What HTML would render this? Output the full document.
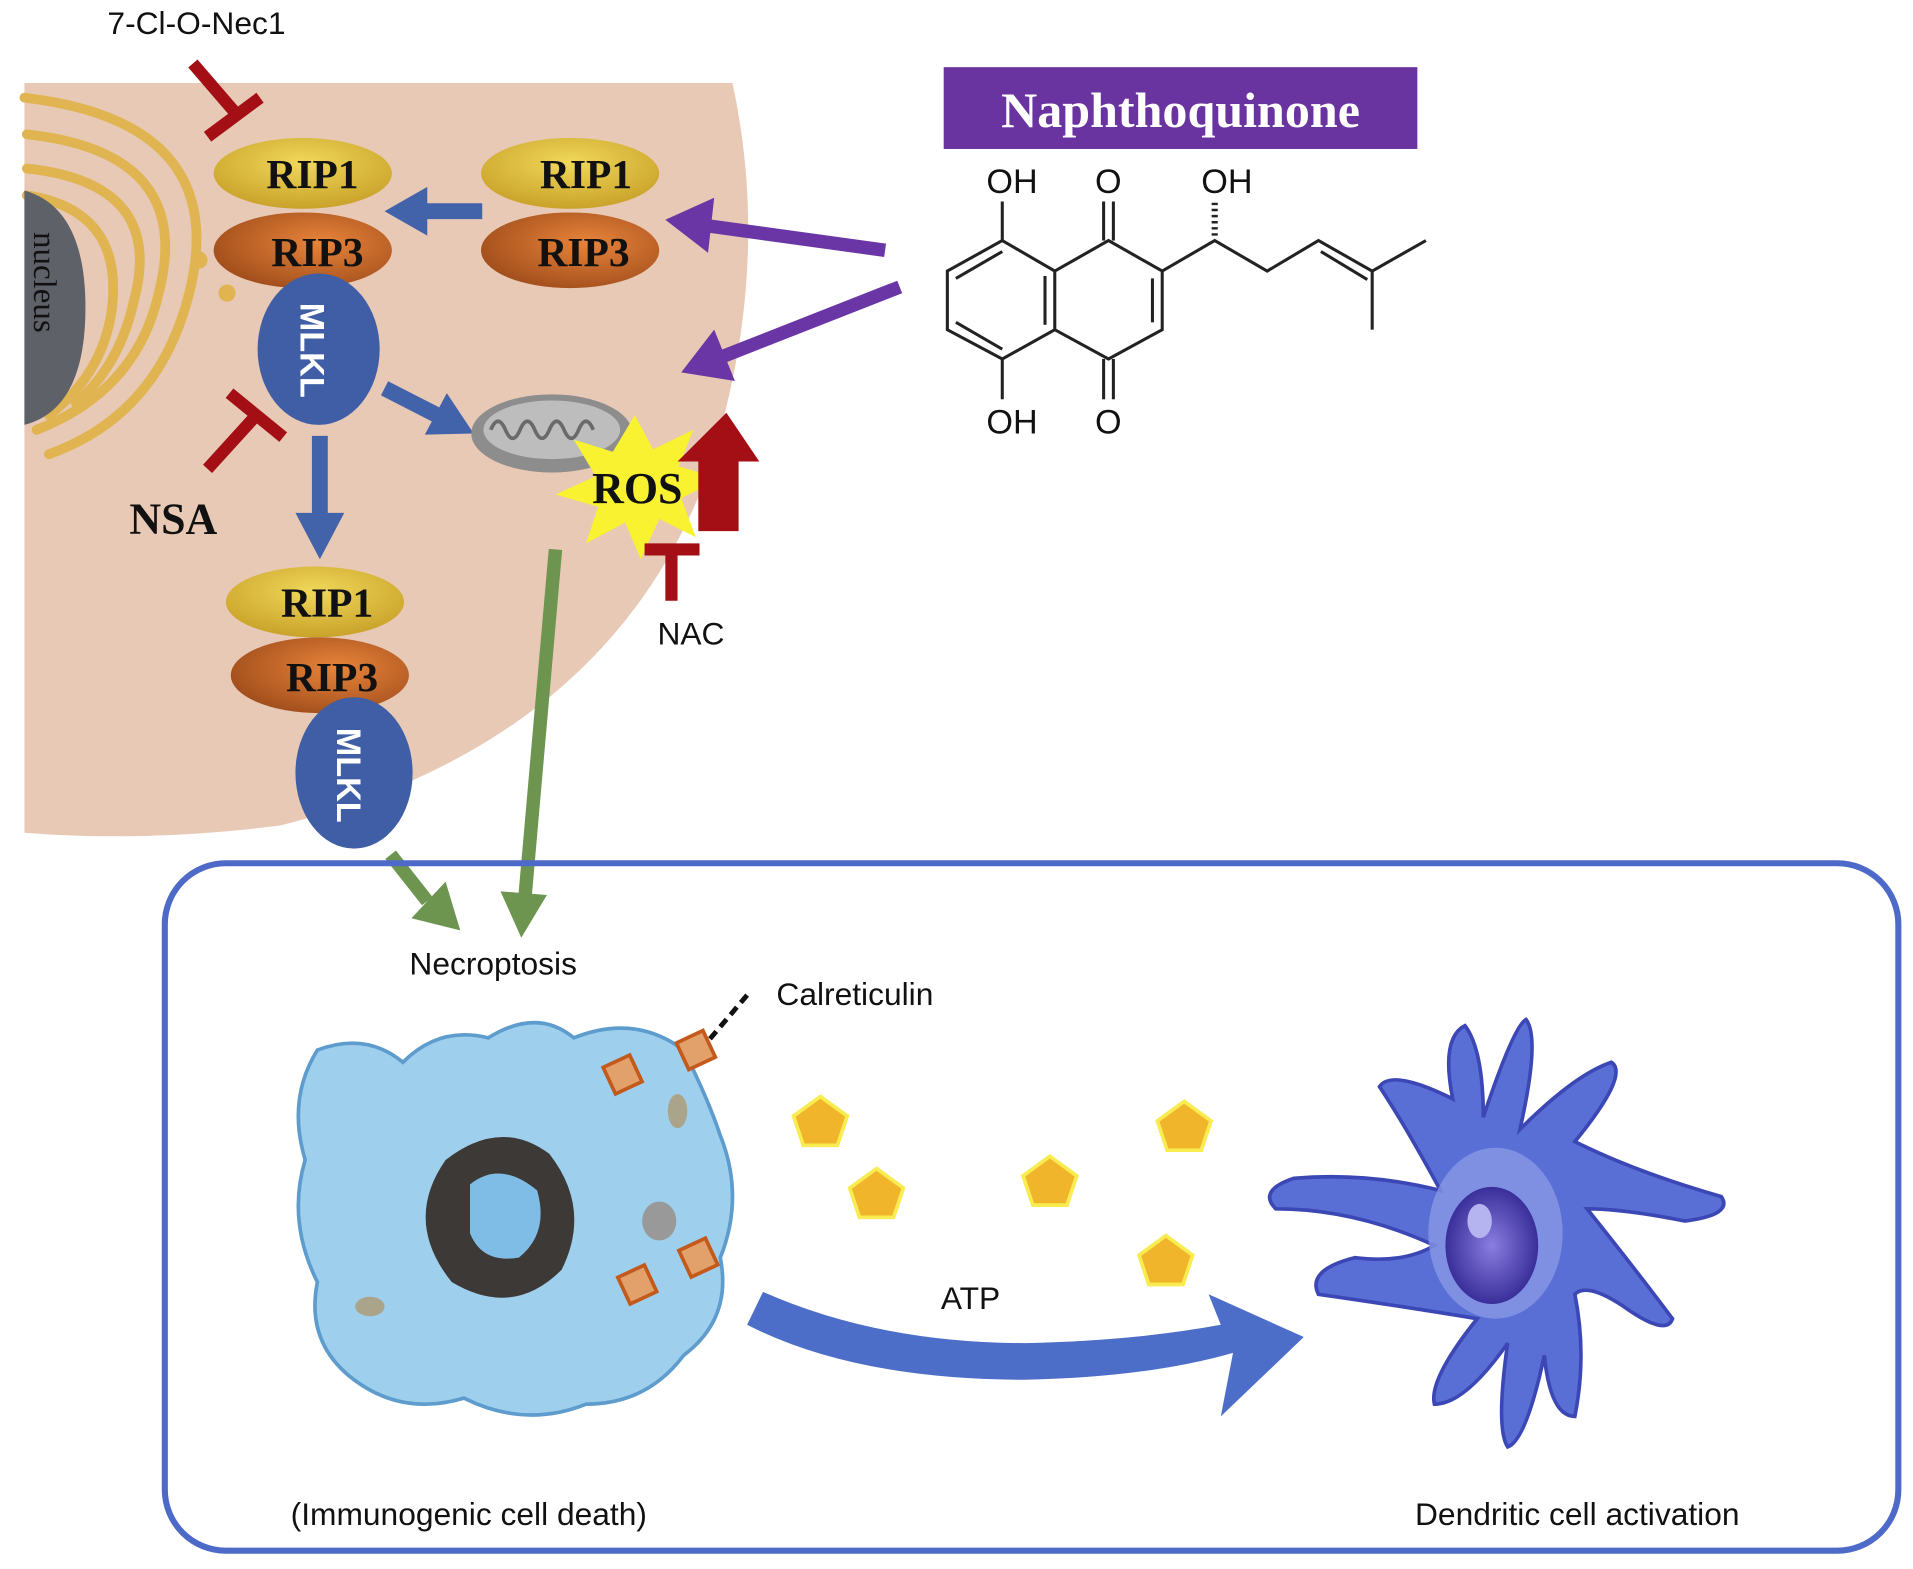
<!DOCTYPE html>
<html><head><meta charset="utf-8"><style>
html,body{margin:0;padding:0;background:#fff;width:1913px;height:1569px;overflow:hidden}
svg{display:block}
.s{font-family:"Liberation Sans",sans-serif;fill:#111}
.b{font-family:"Liberation Serif",serif;font-weight:bold;fill:#111}
</style></head><body>
<svg width="1913" height="1569" viewBox="0 0 1567 1285" preserveAspectRatio="none" xmlns="http://www.w3.org/2000/svg">
<defs>
<radialGradient id="g1" cx="50%" cy="35%" r="65%"><stop offset="0" stop-color="#f0d85a"/><stop offset="1" stop-color="#c9a22a"/></radialGradient>
<radialGradient id="g3" cx="60%" cy="40%" r="70%"><stop offset="0" stop-color="#e8843a"/><stop offset="1" stop-color="#9c4a1a"/></radialGradient>
<radialGradient id="gd" cx="50%" cy="50%" r="50%"><stop offset="0" stop-color="#8a7ee0"/><stop offset="1" stop-color="#3a2e9a"/></radialGradient>
</defs>
<!-- cell -->
<path d="M20,68 L600,68 Q635,230 575,400 Q490,610 230,676 Q120,690 20,682 Z" fill="#e8c9b5"/>
<!-- golgi -->
<g fill="none" stroke="#e0b450" stroke-width="8" stroke-linecap="round">
<path d="M20,80 Q190,100 155,240 Q130,340 40,372"/>
<path d="M22,110 Q160,125 130,240 Q112,320 30,352"/>
<path d="M22,138 Q135,150 110,245 Q98,300 62,330"/>
<path d="M22,160 Q100,172 92,250 Q86,305 40,340"/>
</g>
<circle cx="163" cy="213" r="7" fill="#e0b450"/>
<circle cx="186" cy="240" r="7" fill="#e0b450"/>
<!-- nucleus -->
<path d="M20,156 Q70,170 70,252 Q70,335 20,348 Z" fill="#5f6168"/>
<text transform="translate(28,190) rotate(90)" font-family="Liberation Serif,serif" font-size="27" fill="#111">nucleus</text>
<!-- inhibitor 7-Cl -->
<text class="s" x="88" y="28" font-size="26">7-Cl-O-Nec1</text>
<g stroke="#a30f14" stroke-width="10" fill="none"><line x1="158" y1="52" x2="195" y2="95"/><line x1="170" y1="112" x2="213" y2="80"/></g>
<!-- complex 1 -->
<ellipse cx="248" cy="142" rx="73" ry="29" fill="url(#g1)"/>
<ellipse cx="248" cy="205" rx="73" ry="31" fill="url(#g3)"/>
<ellipse cx="261" cy="286" rx="50" ry="62" fill="#3f5ea6"/>
<text class="b" x="256" y="154" font-size="34" text-anchor="middle">RIP1</text>
<text class="b" x="260" y="218" font-size="34" text-anchor="middle">RIP3</text>
<text transform="translate(246,248) rotate(90)" font-family="Liberation Sans,sans-serif" font-weight="bold" font-size="28" fill="#fff">MLKL</text>
<!-- complex 2 -->
<ellipse cx="467" cy="142" rx="73" ry="29" fill="url(#g1)"/>
<ellipse cx="467" cy="205" rx="73" ry="31" fill="url(#g3)"/>
<text class="b" x="480" y="154" font-size="34" text-anchor="middle">RIP1</text>
<text class="b" x="478" y="218" font-size="34" text-anchor="middle">RIP3</text>
<!-- complex 3 -->
<ellipse cx="258" cy="493" rx="73" ry="29" fill="url(#g1)"/>
<ellipse cx="262" cy="553" rx="73" ry="31" fill="url(#g3)"/>
<ellipse cx="290" cy="633" rx="48" ry="62" fill="#3f5ea6"/>
<text class="b" x="268" y="505" font-size="34" text-anchor="middle">RIP1</text>
<text class="b" x="272" y="566" font-size="34" text-anchor="middle">RIP3</text>
<text transform="translate(276,596) rotate(90)" font-family="Liberation Sans,sans-serif" font-weight="bold" font-size="28" fill="#fff">MLKL</text>
<!-- blue arrows -->
<g fill="#4262aa" stroke="#4262aa">
<line x1="395" y1="173" x2="345" y2="173" stroke-width="13"/><polygon points="315,173 350,153 350,193" stroke="none"/>
<line x1="315" y1="318" x2="358" y2="340" stroke-width="13"/><polygon points="388,355 348,356 366,322" stroke="none"/>
<line x1="262" y1="357" x2="262" y2="425" stroke-width="13"/><polygon points="262,458 242,420 282,420" stroke="none"/>
</g>
<!-- NSA -->
<g stroke="#a30f14" stroke-width="10" fill="none"><line x1="170" y1="384" x2="210" y2="340"/><line x1="188" y1="322" x2="232" y2="358"/></g>
<text class="b" x="106" y="437" font-size="36">NSA</text>
<!-- mitochondrion -->
<ellipse cx="452" cy="355" rx="66" ry="32" fill="#8d8d8d"/>
<ellipse cx="452" cy="352" rx="56" ry="24" fill="#bdbdbd"/>
<path d="M402,352 q6,-14 12,0 q6,14 12,0 q6,-14 12,0 q6,14 12,0 q6,-14 12,0 q6,14 12,0 q6,-14 12,0" fill="none" stroke="#6a6a6a" stroke-width="3"/>
<!-- ROS star -->
<polygon points="520,340 535,368 568,352 556,382 590,392 558,408 570,440 540,425 525,458 512,428 480,445 490,415 455,405 488,390 470,360 502,370" fill="#f8f230"/>
<text class="b" x="522" y="412" font-size="36" text-anchor="middle">ROS</text>
<!-- red up arrow -->
<polygon points="572,435 572,378 555,378 595,338 622,378 605,378 605,435" fill="#a30f14"/>
<!-- NAC -->
<g stroke="#a30f14" stroke-width="10" fill="none"><line x1="550" y1="492" x2="550" y2="452"/><line x1="528" y1="450" x2="573" y2="450"/></g>
<text class="s" x="566" y="528" font-size="26" text-anchor="middle">NAC</text>
<!-- purple arrows -->
<g fill="#6a35a5" stroke="#6a35a5">
<line x1="725" y1="205" x2="580" y2="185" stroke-width="11"/><polygon points="545,180 585,162 580,207" stroke="none"/>
<line x1="737" y1="235" x2="592" y2="292" stroke-width="11"/><polygon points="558,305 585,270 602,312" stroke="none"/>
</g>
<!-- naphthoquinone -->
<rect x="773" y="55" width="388" height="67" fill="#6a34a0"/>
<text x="967" y="104" font-family="Liberation Serif,serif" font-weight="bold" font-size="41" fill="#fff" text-anchor="middle">Naphthoquinone</text>
<g stroke="#222" stroke-width="2.5" fill="none">
<polygon points="821,197 864,222 864,270 821,294 776,270 776,222"/>
<polyline points="864,222 908,197 952,222 952,270 908,294 864,270"/>
<line x1="783" y1="228" x2="821" y2="206"/><line x1="783" y1="264" x2="821" y2="286"/><line x1="856" y1="226" x2="856" y2="266"/>
<line x1="944" y1="228" x2="944" y2="264"/>
<line x1="821" y1="197" x2="821" y2="165"/><line x1="821" y1="294" x2="821" y2="327"/>
<line x1="904" y1="197" x2="904" y2="165"/><line x1="912" y1="197" x2="912" y2="165"/>
<line x1="904" y1="294" x2="904" y2="327"/><line x1="912" y1="294" x2="912" y2="327"/>
<polyline points="952,222 995,197 1038,222 1080,197 1124,222 1168,197"/>
<line x1="1082" y1="206" x2="1120" y2="229"/>
<line x1="1124" y1="222" x2="1124" y2="270"/>
<line x1="995" y1="193" x2="995" y2="165" stroke-dasharray="2,3" stroke-width="5"/>
</g>
<g class="s" font-size="28"><text x="808" y="158">OH</text><text x="897" y="158">O</text><text x="984" y="158">OH</text><text x="808" y="355">OH</text><text x="897" y="355">O</text></g>
<!-- green arrows -->
<g stroke="#6e9550" fill="#6e9550">
<line x1="455" y1="450" x2="430" y2="735" stroke-width="11"/><polygon points="427,768 410,730 448,733" stroke="none"/>
<line x1="320" y1="700" x2="350" y2="738" stroke-width="11"/><polygon points="377,762 337,752 365,722" stroke="none"/>
</g>
<!-- box -->
<rect x="135" y="707" width="1420" height="563" rx="50" fill="none" stroke="#4d6ac8" stroke-width="5"/>
<g class="s" font-size="26"><text x="404" y="798" text-anchor="middle">Necroptosis</text><text x="636" y="823">Calreticulin</text><text x="795" y="1072" text-anchor="middle">ATP</text><text x="384" y="1249" text-anchor="middle">(Immunogenic cell death)</text><text x="1292" y="1249" text-anchor="middle">Dendritic cell activation</text></g>
<line x1="612" y1="815" x2="578" y2="855" stroke="#111" stroke-width="4" stroke-dasharray="8,5"/>
<!-- dying cell -->
<path d="M260,860 Q300,845 330,870 Q360,840 400,850 Q440,825 470,850 Q520,830 560,860 Q580,900 590,930 Q610,980 590,1030 Q600,1080 560,1110 Q530,1150 480,1150 Q430,1170 380,1145 Q330,1160 290,1130 Q250,1100 260,1050 Q235,1000 250,950 Q235,900 260,860 Z" fill="#9ed0ee" stroke="#5d9ccc" stroke-width="3"/>
<path d="M365,950 Q410,915 450,945 Q485,990 460,1040 Q420,1080 370,1050 Q330,1000 365,950 Z" fill="#3d3936"/>
<path d="M385,970 Q410,950 440,975 Q450,1010 425,1030 Q395,1035 385,1010 Z" fill="#7fbde6"/>
<ellipse cx="540" cy="1000" rx="14" ry="16" fill="#999"/>
<ellipse cx="555" cy="910" rx="8" ry="14" fill="#a9a48a"/>
<ellipse cx="303" cy="1070" rx="12" ry="8" fill="#a9a48a"/>
<g fill="#e2a06b" stroke="#c35a1c" stroke-width="3">
<rect x="498" y="868" width="24" height="24" transform="rotate(-25 510 880)"/>
<rect x="558" y="848" width="24" height="24" transform="rotate(-25 570 860)"/>
<rect x="560" y="1018" width="24" height="24" transform="rotate(-25 572 1030)"/>
<rect x="510" y="1040" width="24" height="24" transform="rotate(-25 522 1052)"/>
</g>
<!-- ATP pentagons -->
<g fill="#f0b52a" stroke="#f8ec50" stroke-width="3">
<polygon points="672,898 694,914 686,938 658,938 650,914"/>
<polygon points="718,957 740,973 732,997 704,997 696,973"/>
<polygon points="860,947 882,963 874,987 846,987 838,963"/>
<polygon points="970,902 992,918 984,942 956,942 948,918"/>
<polygon points="955,1012 977,1028 969,1052 941,1052 933,1028"/>
</g>
<!-- curved arrow -->
<path d="M612,1085 Q700,1130 840,1130 Q940,1128 1010,1108 L1000,1160 L1068,1095 L990,1060 L1000,1085 Q930,1098 840,1100 Q720,1100 625,1058 Z" fill="#4d6ec8"/>
<!-- dendritic cell -->
<g fill="#5a6fd6" stroke="#3b47b5" stroke-width="3">
<path d="M1190,900 Q1180,850 1200,840 Q1215,860 1215,915 Q1240,840 1250,835 Q1262,850 1245,925 Q1290,880 1320,870 Q1335,880 1290,935 Q1340,960 1410,980 Q1420,995 1380,1000 Q1330,990 1300,990 Q1340,1040 1370,1080 Q1365,1095 1330,1070 Q1300,1050 1290,1060 Q1300,1110 1290,1160 Q1270,1160 1265,1110 Q1250,1180 1235,1185 Q1225,1170 1235,1100 Q1200,1150 1175,1150 Q1170,1130 1210,1080 Q1150,1070 1080,1060 Q1070,1040 1110,1030 Q1150,1035 1175,1020 Q1110,990 1045,990 Q1030,975 1060,965 Q1120,960 1180,975 Q1150,920 1130,890 Q1140,875 1190,900 Z"/>
</g>
<ellipse cx="1225" cy="1010" rx="55" ry="70" fill="#8f9ee8" opacity="0.7"/>
<ellipse cx="1222" cy="1020" rx="38" ry="48" fill="url(#gd)"/>
<ellipse cx="1212" cy="1000" rx="10" ry="14" fill="#b6b4f0"/>
</svg>
</body></html>
